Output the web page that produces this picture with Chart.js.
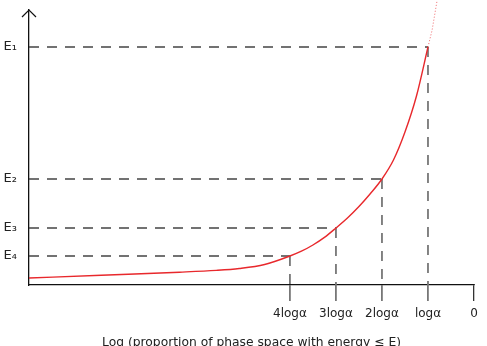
<!DOCTYPE html>
<html>
<head>
<meta charset="utf-8">
<script src="https://cdn.jsdelivr.net/npm/chart.js@4/dist/chart.umd.min.js"></script>
<style>
  html, body { margin: 0; padding: 0; background: #fff; overflow: hidden; }
  canvas { display: block; }
</style>
</head>
<body>
<canvas id="energyChart" width="487" height="352"></canvas>
<script>
// x axis: multiples of log(alpha), 0 at the right end
const tickValues = [-4, -3, -2, -1, 0];
const tickLabels = ['4logα', '3logα', '2logα', 'logα', '0'];

// energy levels and where they meet the curve
const levelNames = ['E₁', 'E₂', 'E₃', 'E₄'];
const levelEnergies = [238, 106, 57, 29];
const levelLogs = [-1, -2, -3, -4];

// red curve
const curveX = [-9.67, -8.1, -6.4, -5.6, -5.1, -4.55, -4, -3.75, -3.5, -3.25, -3,
                -2.75, -2.5, -2.25, -2, -1.75, -1.5, -1.25, -1];
const curveY = [7, 9.8, 12.8, 14.6, 16.5, 20.5, 29, 33.8, 40, 47.6, 57,
                67, 78.5, 91.5, 106, 125, 153, 189, 238];

// dotted continuation above E1
const extX = [-1, -0.91, -0.8];
const extY = [238, 255, 285];

const xMin = -9.67;

Chart.defaults.font.family = 'DejaVu Sans';
Chart.defaults.font.size = 12;
Chart.defaults.color = '#222';

const datasets = [
    {
        data: curveX.map((x, i) => ({ x: x, y: curveY[i] })),
        borderColor: '#e8282c',
        borderWidth: 1.4,
        cubicInterpolationMode: 'monotone',
        pointRadius: 0,
        order: 0
    },
    {
        data: extX.map((x, i) => ({ x: x, y: extY[i] })),
        borderColor: 'rgba(232, 40, 44, 0.7)',
        borderWidth: 1,
        borderDash: [1, 2],
        pointRadius: 0,
        clip: false,
        order: 1
    }
];

levelEnergies.forEach((e, i) => {
    // horizontal guide from the y axis to the curve
    datasets.push({
        data: [{ x: xMin, y: e }, { x: levelLogs[i], y: e }],
        borderColor: '#444',
        borderWidth: 1.3,
        borderDash: [10, 8],
        pointRadius: 0,
        order: 2
    });
    // vertical guide from the curve down to the x axis
    datasets.push({
        data: [{ x: levelLogs[i], y: e }, { x: levelLogs[i], y: 0 }],
        borderColor: '#777',
        borderWidth: 1.8,
        borderDash: [10, 8],
        pointRadius: 0,
        order: 2
    });
});

// arrow head on top of the y axis
const arrowPlugin = {
    id: 'arrow',
    afterDraw(chart) {
        const { ctx, chartArea } = chart;
        ctx.save();
        ctx.strokeStyle = '#111';
        ctx.lineWidth = 1.2;
        ctx.beginPath();
        ctx.moveTo(chartArea.left - 7, chartArea.top + 7);
        ctx.lineTo(chartArea.left, chartArea.top);
        ctx.lineTo(chartArea.left + 7, chartArea.top + 7);
        ctx.stroke();
        ctx.restore();
    }
};

const config = {
    type: 'line',
    data: { datasets: datasets },
    options: {
        responsive: false,
        animation: false,
        layout: { padding: { top: 10, right: 13, left: 0, bottom: 0 } },
        plugins: {
            legend: { display: false },
            tooltip: { enabled: false }
        },
        scales: {
            x: {
                type: 'linear',
                min: xMin,
                max: 0,
                afterBuildTicks: (scale) => {
                    scale.ticks = tickValues.map(v => ({ value: v }));
                },
                afterFit: (scale) => {
                    scale.height = 67;
                    scale.paddingLeft = 0;
                    scale.paddingRight = 0;
                },
                ticks: {
                    autoSkip: false,
                    maxRotation: 0,
                    padding: 6,
                    color: '#222',
                    callback: (v) => tickLabels[tickValues.indexOf(v)]
                },
                grid: {
                    drawOnChartArea: false,
                    drawTicks: true,
                    tickLength: 16,
                    lineWidth: (c) => (c.tick && c.tick.value === 0) ? 1.3 : 1.8,
                    color: (c) => (c.tick && c.tick.value === 0) ? '#333' : '#777'
                },
                border: { display: true, color: '#111', width: 1.3 },
                title: {
                    display: true,
                    text: 'Log (proportion of phase space with energy ≤ E)',
                    color: '#222',
                    font: { size: 12.3 },
                    padding: { top: 0, bottom: 2 }
                }
            },
            y: {
                type: 'linear',
                min: 0,
                max: 275,
                afterBuildTicks: (scale) => {
                    scale.ticks = levelEnergies.map(v => ({ value: v }));
                },
                afterFit: (scale) => {
                    scale.width = 29;
                    scale.paddingTop = 0;
                    scale.paddingBottom = 0;
                },
                ticks: {
                    autoSkip: false,
                    padding: 12,
                    color: '#222',
                    font: { size: 13 },
                    callback: (v) => levelNames[levelEnergies.indexOf(v)]
                },
                grid: { display: false, drawTicks: false },
                border: { display: true, color: '#111', width: 1.3 }
            }
        }
    },
    plugins: [arrowPlugin]
};

const energyChart = new Chart(document.getElementById('energyChart'), config);
</script>
</body>
</html>
